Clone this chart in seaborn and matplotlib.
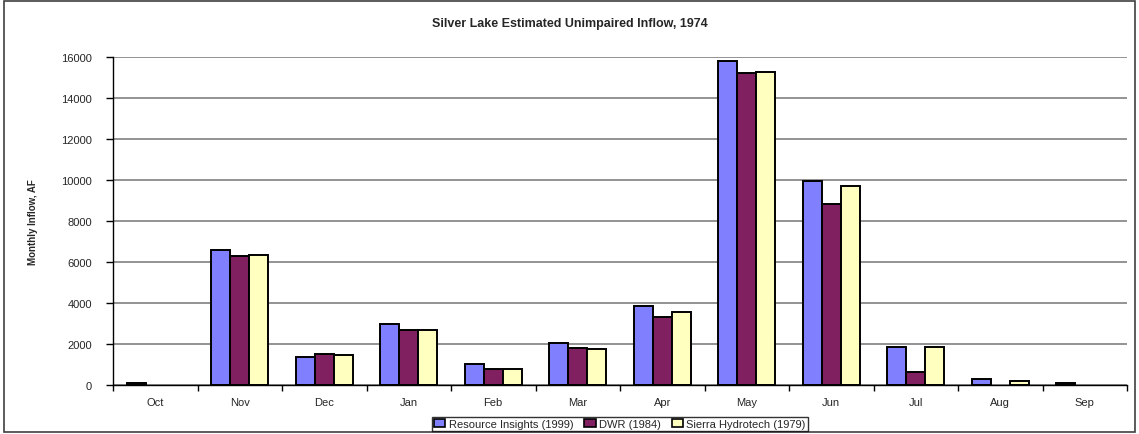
import matplotlib
matplotlib.use("Agg")
import matplotlib.pyplot as plt
import seaborn as sns
import pandas as pd
from matplotlib.patches import Rectangle, Patch
from matplotlib.ticker import FixedLocator

months = ["Oct", "Nov", "Dec", "Jan", "Feb", "Mar", "Apr", "May", "Jun", "Jul", "Aug", "Sep"]
resource_insights = [100, 6600, 1350, 3000, 1030, 2060, 3850, 15800, 9970, 1870, 290, 100]
dwr = [0, 6300, 1500, 2700, 800, 1800, 3300, 15200, 8830, 620, 0, 0]
sierra_hydrotech = [0, 6350, 1450, 2700, 780, 1740, 3550, 15260, 9730, 1870, 210, 0]
series_names = ["Resource Insights (1999)", "DWR (1984)", "Sierra Hydrotech (1979)"]
colors = ["#8080FF", "#802060", "#FFFFC0"]
yticks = [0, 2000, 4000, 6000, 8000, 10000, 12000, 14000, 16000]

rows = []
for name, vals in zip(series_names, [resource_insights, dwr, sierra_hydrotech]):
    for m, v in zip(months, vals):
        rows.append({"Month": m, "Inflow": v, "Source": name})
df = pd.DataFrame(rows)

sns.set_style("white")
plt.rcParams["font.family"] = ["Liberation Sans", "DejaVu Sans"]

fig = plt.figure(figsize=(11.39, 4.35), dpi=100)
ax = fig.add_axes([113 / 1139, 1 - 386 / 435, (1127 - 113) / 1139, (386 - 58) / 435])

sns.barplot(data=df, x="Month", y="Inflow", hue="Source", order=months,
            hue_order=series_names, palette=colors, width=0.675,
            edgecolor="black", linewidth=1.4, saturation=1, ax=ax, legend=False)

# hide outlines of zero-height bars
for p in ax.patches:
    if p.get_height() == 0:
        p.set_linewidth(0)

ax.set_ylim(0, 16000)
ax.set_xlim(-0.5, len(months) - 0.5)
ax.set_yticks(yticks)
ax.set_yticklabels([str(t) for t in yticks], fontsize=8)
ax.yaxis.grid(True, color="#808080", linewidth=1.2)
ax.set_axisbelow(True)
for s in ["top", "right"]:
    ax.spines[s].set_visible(False)
for s in ["left", "bottom"]:
    ax.spines[s].set_color("black")
    ax.spines[s].set_linewidth(1.0)
ax.tick_params(axis="y", direction="out", length=5, width=1, color="black", pad=10, left=True)

ax.set_xticks([i - 0.5 for i in range(len(months) + 1)])
ax.set_xticklabels([])
ax.xaxis.set_minor_locator(FixedLocator(list(range(len(months)))))
ax.set_xticklabels(months, minor=True, fontsize=8)
ax.tick_params(axis="x", which="major", direction="out", length=4, width=1, color="black", bottom=True)
ax.tick_params(axis="x", which="minor", length=0, pad=9)

ax.set_xlabel("")
ax.set_ylabel("Monthly Inflow, AF", fontsize=7, fontweight="bold", labelpad=17)
fig.suptitle("Silver Lake Estimated Unimpaired Inflow, 1974", x=0.5, y=1 - 24 / 435,
             fontsize=9, fontweight="bold", va="center")

handles = [Patch(facecolor=c, edgecolor="black", linewidth=1.2) for c in colors]
leg = fig.legend(handles, series_names, loc="center", bbox_to_anchor=(620 / 1139, 1 - 425 / 435),
                 ncol=3, fontsize=8, frameon=True, fancybox=False, edgecolor="black",
                 handlelength=1.0, handleheight=0.8, handletextpad=0.3, columnspacing=1.0,
                 borderpad=0.2, borderaxespad=0)
leg.get_frame().set_linewidth(1.0)

fig.patches.append(Rectangle((4 / 1139, 2 / 435), 1 - 8 / 1139, 1 - 4 / 435,
                             transform=fig.transFigure, fill=False,
                             edgecolor="#404040", linewidth=1.2))

fig.savefig("out.png", dpi=100)
